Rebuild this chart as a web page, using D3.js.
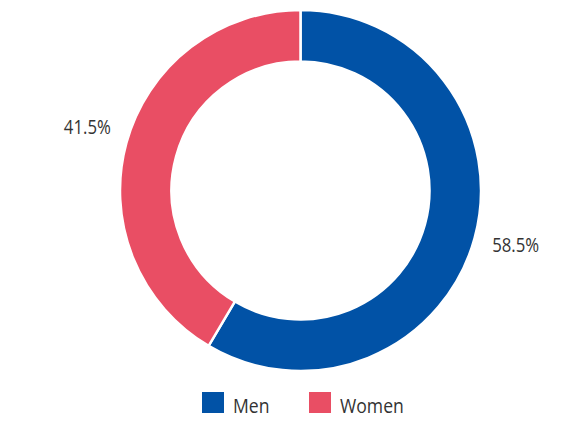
<!DOCTYPE html>
<html>
<head>
<meta charset="utf-8">
<script src="https://cdn.jsdelivr.net/npm/d3@7"></script>
<style>
  body { margin: 0; background: #fff; }
  text { font-family: "Open Sans", "Noto Sans", sans-serif; fill: #333; }
</style>
</head>
<body>
<svg id="chart" width="587" height="425"></svg>
<script>
const categories = ['Men', 'Women'];
const values = [58.5, 41.5];
const labels = ['58.5%', '41.5%'];
const colors = ['#0152a6', '#e94e64'];

const width = 587;
const height = 425;
const cx = 300.5, cy = 190.5;
const outerR = 180.5, innerR = 129;

const svg = d3.select('#chart')
  .attr('width', width)
  .attr('height', height);

const g = svg.append('g')
  .attr('transform', `translate(${cx}, ${cy})`);

const pie = d3.pie().sort(null).value((d) => d.value);
const arc = d3.arc().innerRadius(innerR).outerRadius(outerR);
const labelArc = d3.arc().innerRadius(222).outerRadius(222);

const data = categories.map((c, i) => ({ name: c, value: values[i], label: labels[i], color: colors[i] }));

const arcs = g.selectAll('.arc')
  .data(pie(data))
  .enter()
  .append('g')
  .attr('class', 'arc');

arcs.append('path')
  .attr('d', arc)
  .attr('fill', (d) => d.data.color)
  .attr('stroke', '#fff')
  .attr('stroke-width', 2.5);

// labels sit a little above the slice centroid direction
arcs.append('text')
  .attr('transform', (d) => {
    const [x, y] = labelArc.centroid(d);
    return `translate(${x + 1}, ${y - 5}) scale(0.86, 1)`;
  })
  .attr('text-anchor', 'middle')
  .attr('dominant-baseline', 'central')
  .style('font-size', '19.5px')
  .text((d) => d.data.label);

// legend
const legendX = [202, 309];
const legend = svg.selectAll('.legend')
  .data(data)
  .enter()
  .append('g')
  .attr('class', 'legend')
  .attr('transform', (d, i) => `translate(${legendX[i]}, 392)`);

legend.append('rect')
  .attr('width', 22)
  .attr('height', 21)
  .attr('fill', (d) => d.color);

legend.append('text')
  .attr('transform', 'translate(31, 21) scale(0.86, 1)')
  .style('font-size', '20.5px')
  .text((d) => d.name);
</script>
</body>
</html>
